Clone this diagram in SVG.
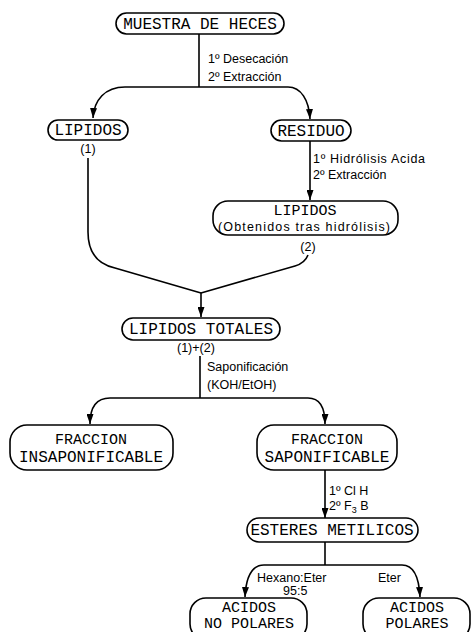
<svg xmlns="http://www.w3.org/2000/svg" width="472" height="632" viewBox="0 0 472 632">
<defs>
<marker id="arr" markerUnits="userSpaceOnUse" markerWidth="10" markerHeight="7" refX="10" refY="3.5" orient="auto">
<path d="M0,0 L10,3.5 L0,7 z" fill="#000"/>
</marker>
<style>
.box{fill:#fff;stroke:#000;stroke-width:1.6}
.nt{font-family:"Liberation Mono","DejaVu Sans Mono",monospace;font-size:16px;fill:#000;text-anchor:middle}
.n2{font-size:15px}
.lb{font-family:"Liberation Sans","DejaVu Sans",sans-serif;font-size:12.5px;fill:#000}
.c{fill:none;stroke:#000;stroke-width:1.6}
.ca{fill:none;stroke:#000;stroke-width:1.6;marker-end:url(#arr)}
</style>
</defs>
<rect width="472" height="632" fill="#fff"/>

<g id="connectors">
<path class="c" d="M199 34 V87"/>
<path class="ca" d="M199 87 H125 C105 87 94 100 93 118"/>
<path class="ca" d="M199 87 H288 C301 87 309 100 310 119"/>
<path class="ca" d="M310 141 V200"/>
<path class="c" d="M88 158 V232 Q88 262 115 268 L201 293"/>
<path class="c" d="M308 255 Q305 263 295 266 L201 293"/>
<path class="ca" d="M201 293 V317"/>
<path class="c" d="M200 356 V398"/>
<path class="ca" d="M200 398 H110 C96 398 90 408 90 424"/>
<path class="ca" d="M200 398 H308 C320 398 325 408 325 424"/>
<path class="ca" d="M325 470 V518"/>
<path class="c" d="M325 542 V565"/>
<path class="ca" d="M325 565 H264 C252 565 246 576 245 597"/>
<path class="ca" d="M325 565 H402 C413 565 419 576 420 597"/>
</g>

<g id="labels">
<text class="lb" x="208" y="63">1º Desecación</text>
<text class="lb" x="208" y="81">2º Extracción</text>
<text class="lb" x="313" y="163" textLength="112">1º Hidrólisis Acida</text>
<text class="lb" x="313" y="179">2º Extracción</text>
<text class="lb" x="177" y="352">(1)+(2)</text>
<text class="lb" x="207" y="371">Saponificación</text>
<text class="lb" x="207" y="389">(KOH/EtOH)</text>
<text class="lb" x="329" y="495">1º  Cl H</text>
<text class="lb" x="329" y="510">2º  F<tspan font-size="9" dy="3">3</tspan><tspan dy="-3"> B</tspan></text>
<text class="lb" x="257" y="582">Hexano:Eter</text>
<text class="lb" x="283" y="595">95:5</text>
<text class="lb" x="378" y="582">Eter</text>
</g>

<g id="n-muestra">
<rect class="box" x="116" y="13" width="168" height="21" rx="10.5"/>
<text class="nt" x="200" y="29">MUESTRA DE HECES</text>
</g>

<g id="n-lipidos1">
<rect class="box" x="48" y="120" width="80" height="20" rx="10"/>
<text class="nt" x="88" y="135">LIPIDOS</text>
<text class="lb" x="88" y="153" text-anchor="middle">(1)</text>
</g>

<g id="n-residuo">
<rect class="box" x="271" y="120" width="80" height="21" rx="10.5"/>
<text class="nt" x="311" y="136">RESIDUO</text>
</g>

<g id="n-lipidos2">
<rect class="box" x="213" y="201" width="185" height="34" rx="15"/>
<text class="nt n2" x="305" y="215">LIPIDOS</text>
<text class="lb" x="218" y="231" textLength="172">(Obtenidos tras hidrólisis)</text>
<text class="lb" x="308" y="251" text-anchor="middle">(2)</text>
</g>

<g id="n-totales">
<rect class="box" x="122" y="318" width="158" height="22" rx="11"/>
<text class="nt" x="201" y="334">LIPIDOS TOTALES</text>
</g>

<g id="n-insap">
<rect class="box" x="10" y="425" width="163" height="45" rx="17"/>
<text class="nt n2" x="91" y="444">FRACCION</text>
<text class="nt" x="91" y="462">INSAPONIFICABLE</text>
</g>

<g id="n-sap">
<rect class="box" x="257" y="425" width="140" height="45" rx="17"/>
<text class="nt n2" x="327" y="444">FRACCION</text>
<text class="nt" x="327" y="462">SAPONIFICABLE</text>
</g>

<g id="n-esteres">
<rect class="box" x="247" y="518" width="171" height="24" rx="12"/>
<text class="nt" x="332" y="535">ESTERES METILICOS</text>
</g>

<g id="n-nopolares">
<rect class="box" x="190" y="598" width="117" height="42" rx="16"/>
<text class="nt n2" x="249" y="612">ACIDOS</text>
<text class="nt n2" x="249" y="628">NO POLARES</text>
</g>

<g id="n-polares">
<rect class="box" x="363" y="598" width="107" height="42" rx="16"/>
<text class="nt n2" x="417" y="612">ACIDOS</text>
<text class="nt n2" x="417" y="628">POLARES</text>
</g>
</svg>
